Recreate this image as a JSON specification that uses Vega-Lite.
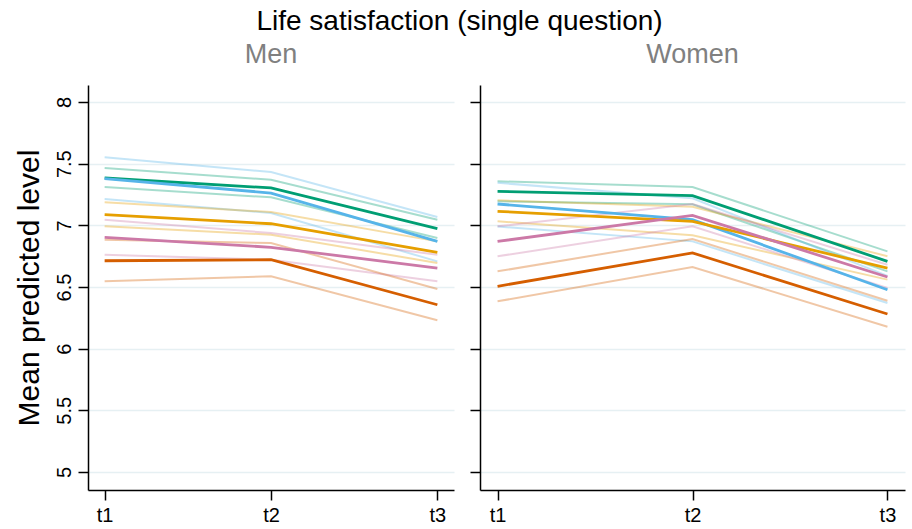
{
  "$schema": "https://vega.github.io/schema/vega-lite/v6.json",
  "background": "white",
  "padding": {"left": 14, "top": 8, "right": 8, "bottom": 4},
  "title": {"text": "Life satisfaction (single question)", "fontSize": 28, "fontWeight": "normal", "anchor": "middle", "color": "black", "offset": 5},
  "spacing": 15,
  "datasets": {
    "d": [
      {"s":"Men","g":"green","b":"mid","t":"t1","v":7.384},{"s":"Men","g":"green","b":"mid","t":"t2","v":7.303},{"s":"Men","g":"green","b":"mid","t":"t3","v":6.973},
      {"s":"Men","g":"green","b":"hi","t":"t1","v":7.465},{"s":"Men","g":"green","b":"hi","t":"t2","v":7.370},{"s":"Men","g":"green","b":"hi","t":"t3","v":7.046},
      {"s":"Men","g":"green","b":"lo","t":"t1","v":7.311},{"s":"Men","g":"green","b":"lo","t":"t2","v":7.227},{"s":"Men","g":"green","b":"lo","t":"t3","v":6.897},
      {"s":"Men","g":"blue","b":"mid","t":"t1","v":7.378},{"s":"Men","g":"blue","b":"mid","t":"t2","v":7.262},{"s":"Men","g":"blue","b":"mid","t":"t3","v":6.870},
      {"s":"Men","g":"blue","b":"hi","t":"t1","v":7.552},{"s":"Men","g":"blue","b":"hi","t":"t2","v":7.432},{"s":"Men","g":"blue","b":"hi","t":"t3","v":7.068},
      {"s":"Men","g":"blue","b":"lo","t":"t1","v":7.214},{"s":"Men","g":"blue","b":"lo","t":"t2","v":7.100},{"s":"Men","g":"blue","b":"lo","t":"t3","v":6.708},
      {"s":"Men","g":"orange","b":"mid","t":"t1","v":7.087},{"s":"Men","g":"orange","b":"mid","t":"t2","v":7.013},{"s":"Men","g":"orange","b":"mid","t":"t3","v":6.781},
      {"s":"Men","g":"orange","b":"hi","t":"t1","v":7.187},{"s":"Men","g":"orange","b":"hi","t":"t2","v":7.108},{"s":"Men","g":"orange","b":"hi","t":"t3","v":6.870},
      {"s":"Men","g":"orange","b":"lo","t":"t1","v":6.992},{"s":"Men","g":"orange","b":"lo","t":"t2","v":6.924},{"s":"Men","g":"orange","b":"lo","t":"t3","v":6.695},
      {"s":"Men","g":"purple","b":"mid","t":"t1","v":6.903},{"s":"Men","g":"purple","b":"mid","t":"t2","v":6.822},{"s":"Men","g":"purple","b":"mid","t":"t3","v":6.654},
      {"s":"Men","g":"purple","b":"hi","t":"t1","v":7.046},{"s":"Men","g":"purple","b":"hi","t":"t2","v":6.938},{"s":"Men","g":"purple","b":"hi","t":"t3","v":6.762},
      {"s":"Men","g":"purple","b":"lo","t":"t1","v":6.762},{"s":"Men","g":"purple","b":"lo","t":"t2","v":6.721},{"s":"Men","g":"purple","b":"lo","t":"t3","v":6.546},
      {"s":"Men","g":"verm","b":"mid","t":"t1","v":6.713},{"s":"Men","g":"verm","b":"mid","t":"t2","v":6.721},{"s":"Men","g":"verm","b":"mid","t":"t3","v":6.356},
      {"s":"Men","g":"verm","b":"hi","t":"t1","v":6.884},{"s":"Men","g":"verm","b":"hi","t":"t2","v":6.857},{"s":"Men","g":"verm","b":"hi","t":"t3","v":6.484},
      {"s":"Men","g":"verm","b":"lo","t":"t1","v":6.546},{"s":"Men","g":"verm","b":"lo","t":"t2","v":6.587},{"s":"Men","g":"verm","b":"lo","t":"t3","v":6.230},
      {"s":"Women","g":"green","b":"mid","t":"t1","v":7.276},{"s":"Women","g":"green","b":"mid","t":"t2","v":7.241},{"s":"Women","g":"green","b":"mid","t":"t3","v":6.708},
      {"s":"Women","g":"green","b":"hi","t":"t1","v":7.357},{"s":"Women","g":"green","b":"hi","t":"t2","v":7.311},{"s":"Women","g":"green","b":"hi","t":"t3","v":6.789},
      {"s":"Women","g":"green","b":"lo","t":"t1","v":7.195},{"s":"Women","g":"green","b":"lo","t":"t2","v":7.171},{"s":"Women","g":"green","b":"lo","t":"t3","v":6.627},
      {"s":"Women","g":"blue","b":"mid","t":"t1","v":7.173},{"s":"Women","g":"blue","b":"mid","t":"t2","v":7.046},{"s":"Women","g":"blue","b":"mid","t":"t3","v":6.478},
      {"s":"Women","g":"blue","b":"hi","t":"t1","v":7.345},{"s":"Women","g":"blue","b":"hi","t":"t2","v":7.220},{"s":"Women","g":"blue","b":"hi","t":"t3","v":6.590},
      {"s":"Women","g":"blue","b":"lo","t":"t1","v":6.990},{"s":"Women","g":"blue","b":"lo","t":"t2","v":6.870},{"s":"Women","g":"blue","b":"lo","t":"t3","v":6.370},
      {"s":"Women","g":"orange","b":"mid","t":"t1","v":7.114},{"s":"Women","g":"orange","b":"mid","t":"t2","v":7.033},{"s":"Women","g":"orange","b":"mid","t":"t3","v":6.654},
      {"s":"Women","g":"orange","b":"hi","t":"t1","v":7.203},{"s":"Women","g":"orange","b":"hi","t":"t2","v":7.150},{"s":"Women","g":"orange","b":"hi","t":"t3","v":6.750},
      {"s":"Women","g":"orange","b":"lo","t":"t1","v":7.033},{"s":"Women","g":"orange","b":"lo","t":"t2","v":6.920},{"s":"Women","g":"orange","b":"lo","t":"t3","v":6.560},
      {"s":"Women","g":"purple","b":"mid","t":"t1","v":6.870},{"s":"Women","g":"purple","b":"mid","t":"t2","v":7.081},{"s":"Women","g":"purple","b":"mid","t":"t3","v":6.581},
      {"s":"Women","g":"purple","b":"hi","t":"t1","v":6.992},{"s":"Women","g":"purple","b":"hi","t":"t2","v":7.173},{"s":"Women","g":"purple","b":"hi","t":"t3","v":6.680},
      {"s":"Women","g":"purple","b":"lo","t":"t1","v":6.749},{"s":"Women","g":"purple","b":"lo","t":"t2","v":6.992},{"s":"Women","g":"purple","b":"lo","t":"t3","v":6.492},
      {"s":"Women","g":"verm","b":"mid","t":"t1","v":6.506},{"s":"Women","g":"verm","b":"mid","t":"t2","v":6.776},{"s":"Women","g":"verm","b":"mid","t":"t3","v":6.281},
      {"s":"Women","g":"verm","b":"hi","t":"t1","v":6.627},{"s":"Women","g":"verm","b":"hi","t":"t2","v":6.889},{"s":"Women","g":"verm","b":"hi","t":"t3","v":6.389},
      {"s":"Women","g":"verm","b":"lo","t":"t1","v":6.384},{"s":"Women","g":"verm","b":"lo","t":"t2","v":6.662},{"s":"Women","g":"verm","b":"lo","t":"t3","v":6.178}
    ]
  },
  "hconcat": [
    {
      "width": 366,
      "height": 405,
      "title": {"text": "Men", "fontSize": 27, "color": "#808080", "fontWeight": "normal", "frame": "group", "anchor": "middle", "offset": 16},
      "data": {"name": "d"},
      "transform": [{"filter": "datum.s === 'Men'"}],
      "encoding": {
        "x": {"field": "t", "type": "ordinal", "scale": {"type": "point", "padding": 0.1},
              "axis": {"title": null, "labelAngle": 0, "labelFontSize": 20, "tickSize": 10, "labelPadding": 5, "grid": false}},
        "y": {"field": "v", "type": "quantitative", "scale": {"domain": [4.854, 8.138], "nice": false, "zero": false},
              "axis": {"title": "Mean predicted level", "titleFontSize": 30, "titleFontWeight": "normal", "titleColor": "black", "titlePadding": 10,
                       "values": [5, 5.5, 6, 6.5, 7, 7.5, 8], "format": ".2~f", "labelAngle": -90, "labelFontSize": 20, "labelPadding": 4, "tickSize": 10, "grid": true}},
        "color": {"field": "g", "type": "nominal", "legend": null,
                  "scale": {"domain": ["green", "blue", "orange", "purple", "verm"], "range": ["#009E73", "#56B4E9", "#E69F00", "#CC79A7", "#D55E00"]}},
        "detail": {"field": "b"}
      },
      "layer": [
        {"transform": [{"filter": "datum.b !== 'mid'"}], "mark": {"type": "line", "strokeWidth": 2, "opacity": 0.35}},
        {"transform": [{"filter": "datum.b === 'mid'"}], "mark": {"type": "line", "strokeWidth": 2.8}}
      ]
    },
    {
      "width": 425,
      "height": 405,
      "title": {"text": "Women", "fontSize": 27, "color": "#808080", "fontWeight": "normal", "frame": "group", "anchor": "middle", "offset": 16},
      "data": {"name": "d"},
      "transform": [{"filter": "datum.s === 'Women'"}],
      "encoding": {
        "x": {"field": "t", "type": "ordinal", "scale": {"type": "point", "padding": 0.09},
              "axis": {"title": null, "labelAngle": 0, "labelFontSize": 20, "tickSize": 10, "labelPadding": 5, "grid": false}},
        "y": {"field": "v", "type": "quantitative", "scale": {"domain": [4.854, 8.138], "nice": false, "zero": false},
              "axis": {"title": null, "labels": false, "values": [5, 5.5, 6, 6.5, 7, 7.5, 8], "tickSize": 10, "grid": true}},
        "color": {"field": "g", "type": "nominal", "legend": null,
                  "scale": {"domain": ["green", "blue", "orange", "purple", "verm"], "range": ["#009E73", "#56B4E9", "#E69F00", "#CC79A7", "#D55E00"]}},
        "detail": {"field": "b"}
      },
      "layer": [
        {"transform": [{"filter": "datum.b !== 'mid'"}], "mark": {"type": "line", "strokeWidth": 2, "opacity": 0.35}},
        {"transform": [{"filter": "datum.b === 'mid'"}], "mark": {"type": "line", "strokeWidth": 2.8}}
      ]
    }
  ],
  "config": {
    "font": "Liberation Sans",
    "view": {"stroke": null},
    "axis": {"domainColor": "black", "domainWidth": 1.5, "tickColor": "black", "tickWidth": 1.5, "labelColor": "black", "gridColor": "#e6f0f3", "gridWidth": 1.5, "labelFont": "Liberation Sans", "titleFont": "Liberation Sans"},
    "title": {"font": "Liberation Sans"}
  }
}
